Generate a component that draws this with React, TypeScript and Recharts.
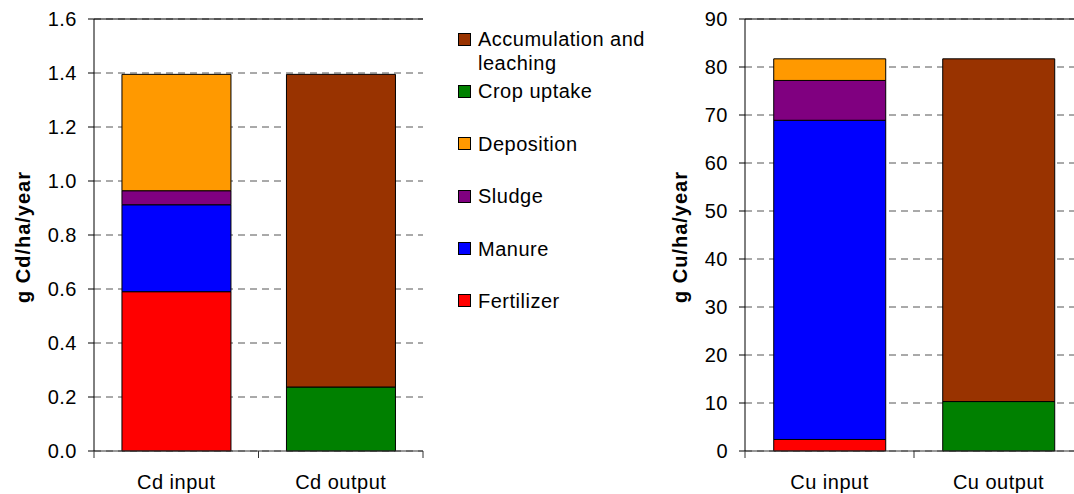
import React from 'react';
import { BarChart, Bar, XAxis, YAxis, CartesianGrid, ReferenceLine, Label } from 'recharts';

const FONT = '"Liberation Sans", Arial, Helvetica, sans-serif';

// Categories
const cdCategories = ['Cd input', 'Cd output'];
const cuCategories = ['Cu input', 'Cu output'];

// Series (stack order bottom -> top)
const seriesKeys = ['fertilizer', 'manure', 'sludge', 'deposition', 'crop', 'accum'];
const seriesNames = ['Fertilizer', 'Manure', 'Sludge', 'Deposition', 'Crop uptake', 'Accumulation and leaching'];
const seriesColors = ['#FF0000', '#0000FF', '#800080', '#FF9900', '#008000', '#993300'];

// Cd values (g Cd/ha/year)
const cdFertilizer = [0.59, 0];
const cdManure = [0.322, 0];
const cdSludge = [0.052, 0];
const cdDeposition = [0.431, 0];
const cdCropUptake = [0, 0.237];
const cdAccumulation = [0, 1.158];

// Cu values (g Cu/ha/year)
const cuFertilizer = [2.4, 0];
const cuManure = [66.5, 0];
const cuSludge = [8.3, 0];
const cuDeposition = [4.5, 0];
const cuCropUptake = [0, 10.3];
const cuAccumulation = [0, 71.4];

// Tick labels
const cdTicks = [0, 0.2, 0.4, 0.6, 0.8, 1.0, 1.2, 1.4, 1.6];
const cuTicks = [0, 10, 20, 30, 40, 50, 60, 70, 80, 90];

function buildRows(categories: string[], values: number[][]) {
  return categories.map((c, i) => {
    const row: any = { category: c };
    seriesKeys.forEach((k, j) => {
      row[k] = values[j][i];
    });
    return row;
  });
}

const cdData = buildRows(cdCategories, [cdFertilizer, cdManure, cdSludge, cdDeposition, cdCropUptake, cdAccumulation]);
const cuData = buildRows(cuCategories, [cuFertilizer, cuManure, cuSludge, cuDeposition, cuCropUptake, cuAccumulation]);

const XTick = (props: any) => {
  const { x, y, payload, index, visibleTicksCount, width } = props;
  const half =
    payload && typeof payload.offset === 'number' && payload.offset > 0
      ? payload.offset
      : width / (visibleTicksCount || 2) / 2;
  return (
    <g>
      <line x1={x - half} x2={x - half} y1={y} y2={y + 7} stroke="#333" />
      {index === visibleTicksCount - 1 && (
        <line x1={x + half} x2={x + half} y1={y} y2={y + 7} stroke="#333" />
      )}
      <text
        x={x}
        y={y + 38}
        textAnchor="middle"
        fontSize={20}
        fill="#000"
        fontFamily={FONT}
        style={{ letterSpacing: '0.5px' }}
      >
        {payload.value}
      </text>
    </g>
  );
};

const makeYLabel = (text: string, dx: number) => (props: any) => {
  const vb = props.viewBox || {};
  const x = (vb.x || 0) + dx;
  const y = (vb.y || 0) + (vb.height || 0) / 2 + 2;
  return (
    <text
      x={x}
      y={y}
      transform={`rotate(-90, ${x}, ${y})`}
      textAnchor="middle"
      fontSize={20}
      fontWeight="bold"
      fill="#000"
      fontFamily={FONT}
      style={{ letterSpacing: '1px' }}
    >
      {text}
    </text>
  );
};

type PanelProps = {
  data: any[];
  ticks: number[];
  max: number;
  width: number;
  yAxisWidth: number;
  label: string;
  labelDx: number;
  fmt: (v: number) => string;
};

const Panel = ({ data, ticks, max, width, yAxisWidth, label, labelDx, fmt }: PanelProps) => (
  <BarChart
    width={width}
    height={494}
    data={data}
    margin={{ top: 19, right: 17, left: 0, bottom: 3 }}
    barCategoryGap="17%"
  >
    <CartesianGrid yAxisId="left" vertical={false} stroke="#555" strokeDasharray="7 5" />
    <XAxis
      dataKey="category"
      height={40}
      interval={0}
      tickLine={false}
      tickSize={0}
      tickMargin={0}
      axisLine={{ stroke: '#333' }}
      tick={<XTick />}
    />
    <YAxis
      yAxisId="left"
      width={yAxisWidth}
      domain={[0, max]}
      ticks={ticks}
      interval={0}
      tickSize={6}
      tickMargin={11}
      tickFormatter={fmt}
      axisLine={{ stroke: '#000' }}
      tickLine={{ stroke: '#000' }}
      tick={{ fill: '#000', fontSize: 20, fontFamily: FONT, style: { letterSpacing: '0.5px' } } as any}
    >
      <Label content={makeYLabel(label, labelDx)} />
    </YAxis>
    <YAxis
      yAxisId="right"
      orientation="right"
      width={0}
      domain={[0, max]}
      tick={false}
      tickLine={false}
      axisLine={{ stroke: '#333' }}
    />
    <ReferenceLine yAxisId="left" y={max} stroke="#000" strokeWidth={1} />
    {seriesKeys.map((k, i) => (
      <Bar
        key={k}
        yAxisId="left"
        dataKey={k}
        name={seriesNames[i]}
        stackId="s"
        fill={seriesColors[i]}
        stroke="#000"
        strokeWidth={1}
        isAnimationActive={false}
      />
    ))}
  </BarChart>
);

const legendOrder = [5, 4, 3, 2, 1, 0];

export default function App() {
  return (
    <div
      style={{
        position: 'absolute',
        left: 0,
        top: 0,
        width: 1074,
        height: 494,
        overflow: 'hidden',
        background: '#fff',
        fontFamily: FONT,
      }}
    >
      <div style={{ position: 'absolute', left: 0, top: 0 }}>
        <Panel
          data={cdData}
          ticks={cdTicks}
          max={1.6}
          width={440}
          yAxisWidth={94}
          label="g Cd/ha/year"
          labelDx={29.5}
          fmt={(v) => v.toFixed(1)}
        />
      </div>
      <div style={{ position: 'absolute', left: 660, top: 0 }}>
        <Panel
          data={cuData}
          ticks={cuTicks}
          max={90}
          width={440}
          yAxisWidth={85}
          label="g Cu/ha/year"
          labelDx={27}
          fmt={(v) => String(v)}
        />
      </div>
      <div style={{ position: 'absolute', left: 458, top: 27 }}>
        {legendOrder.map((i) => (
          <div key={seriesKeys[i]} style={{ display: 'flex', alignItems: 'flex-start', height: 52.4 }}>
            <div
              style={{
                width: 11,
                height: 11,
                marginTop: 5.5,
                background: seriesColors[i],
                border: '1px solid #000',
                flexShrink: 0,
              }}
            />
            <div
              style={{
                marginLeft: 7,
                width: 190,
                fontSize: 20,
                lineHeight: '24px',
                letterSpacing: '0.5px',
                color: '#000',
              }}
            >
              {seriesNames[i]}
            </div>
          </div>
        ))}
      </div>
    </div>
  );
}
